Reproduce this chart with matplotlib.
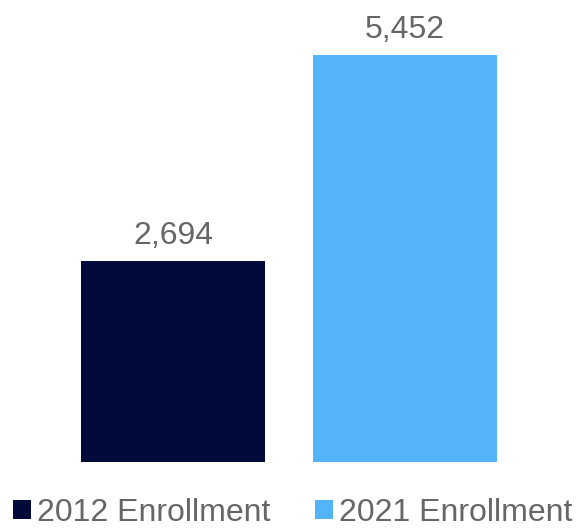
import matplotlib.pyplot as plt

categories = ["2012 Enrollment", "2021 Enrollment"]
enrollment = [2694, 5452]
colors = ["#020a3a", "#53b4f9"]

plt.rcParams['font.family'] = ['Liberation Sans', 'DejaVu Sans']
text_gray = "#666666"

fig = plt.figure(figsize=(5.77, 5.28), dpi=100)
ax = fig.add_axes([57 / 577, 66 / 528, 464 / 577, 448 / 528])

x = range(len(categories))
bars = ax.bar(x, enrollment, width=0.793, color=colors, label=categories)

for rect, val in zip(bars, enrollment):
    ax.annotate(f"{val:,}", (rect.get_x() + rect.get_width() / 2, val),
                xytext=(0, 7), textcoords="offset points",
                ha="center", va="bottom", fontsize=23, color=text_gray)

ax.set_xlim(-0.5, 1.5)
ax.set_ylim(0, 6000)
ax.axis("off")

fig.legend(handles=list(bars), labels=categories, loc="lower center",
           bbox_to_anchor=(0.508, -0.03), ncol=2, frameon=False,
           fontsize=23, labelcolor=text_gray,
           handlelength=0.55, handleheight=0.55, handletextpad=0.2,
           columnspacing=1.4, borderpad=0)

fig.savefig("out.png", dpi=100)
